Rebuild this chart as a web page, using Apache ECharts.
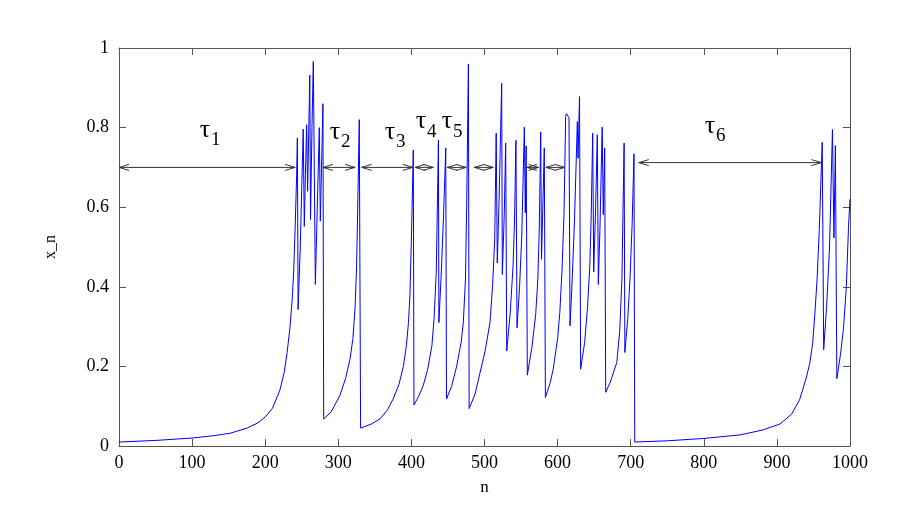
<!DOCTYPE html>
<html><head><meta charset="utf-8">
<script src="https://cdn.jsdelivr.net/npm/echarts@6/dist/echarts.min.js"></script>
<style>html,body{margin:0;padding:0;background:#fff}#c{width:915px;height:523px}</style>
</head><body><div id="c"></div>
<script>
// iteration index n and value x_n
const nValues = [0,50,100,130,152,175,190,200,210,220,226,230,234,237,239,241,243,244,
245,248,250,252,253.5,255,256.7,258,261,262,264,265.8,268.6,271,274,275.4,279,280,
290,302,310,316,320,323,325,327,328.7,330.5,
345,357,367,375,383,389,393,396,398,400,402.6,403.5,
410,416,422,428,431,434,437,437.6,441,444,447,448,
455,462,468,471,474,475.6,478,479,
487,494,501,507.5,511,514,516,517.5,520,523.5,524.4,527,529,530.4,535,539,541,543,544.5,548,551,554.5,555.8,557,558.6,565,570,573,575,576.9,578,581.8,583.3,
590,594,600,603,606,608.8,611,612,614,615.6,617,620,623,627,628,630,631.5,637,641,644,646,648,649.4,652,654.3,655.7,658,661,662.5,664.4,665.8,672,681,685,688,691,692,696,699,702,704.5,705.5,
750,800,850,880,904,920,931,940,945,949,952,955,958,962,964,968,972,976,978,980,982,987,991,995,998,1000];
const xValues = [0.010,0.014,0.020,0.026,0.032,0.045,0.058,0.073,0.095,0.14,0.185,0.235,0.30,0.37,0.44,0.55,0.68,0.774,
0.343,0.50,0.65,0.796,0.552,0.68,0.807,0.64,0.932,0.569,0.80,0.966,0.406,0.58,0.80,0.565,0.86,0.068,
0.085,0.126,0.17,0.218,0.27,0.35,0.45,0.644,0.82,0.045,
0.055,0.068,0.09,0.118,0.155,0.2,0.25,0.31,0.38,0.52,0.744,0.103,
0.125,0.151,0.19,0.251,0.32,0.436,0.769,0.31,0.44,0.58,0.749,0.118,
0.15,0.201,0.26,0.31,0.42,0.602,0.96,0.094,
0.13,0.185,0.24,0.31,0.40,0.52,0.786,0.46,0.62,0.911,0.431,0.58,0.761,0.239,0.33,0.45,0.56,0.768,0.297,0.40,0.53,0.801,0.586,0.754,0.178,0.25,0.33,0.42,0.55,0.789,0.469,0.749,0.122,
0.16,0.193,0.27,0.335,0.44,0.586,0.828,0.835,0.835,0.825,0.302,0.42,0.56,0.815,0.723,0.878,0.193,0.26,0.35,0.45,0.58,0.786,0.437,0.6,0.782,0.406,0.55,0.801,0.581,0.749,0.135,0.16,0.21,0.29,0.42,0.761,0.235,0.32,0.419,0.56,0.734,0.010,
0.013,0.019,0.028,0.040,0.055,0.08,0.116,0.17,0.208,0.26,0.334,0.42,0.544,0.763,0.242,0.35,0.50,0.795,0.523,0.755,0.169,0.23,0.293,0.40,0.552,0.62];

// laminar-phase double arrows
const arrowStart = [0,279,332,405,449,486,558,584,711];
const arrowEnd   = [241,323,402,430,475,512,574,610,961];
const arrowLevel = [0.7,0.7,0.7,0.7,0.7,0.7,0.7,0.7,0.712];

// tau labels
const labelN   = [117.6,295.5,370.7,413,448.6,808.5];
const labelY   = [0.789,0.784,0.784,0.810,0.810,0.798];
const labelSub = [1,2,3,4,5,6];

const xTicks = [0,100,200,300,400,500,600,700,800,900,1000];

const serif = '"Liberation Serif","Times New Roman",serif';
const frame = '#555';

const chart = echarts.init(document.getElementById('c'), null, {renderer:'canvas'});
const lineData = nValues.map((n,i)=>[n, xValues[i]]);
const arrowData = arrowStart.map((s,i)=>[s, arrowEnd[i], arrowLevel[i]]);
const labelData = labelN.map((n,i)=>[n, labelY[i], labelSub[i]]);

const axisCommonX = {type:'value', min:0, max:1000, interval:100,
  axisLine:{show:true, onZero:false, lineStyle:{color:frame, width:1}},
  axisTick:{show:true, inside:true, length:7, lineStyle:{color:frame}},
  splitLine:{show:false}};
const axisCommonY = {type:'value', min:0, max:1, interval:0.2,
  axisLine:{show:true, onZero:false, lineStyle:{color:frame, width:1}},
  axisTick:{show:true, inside:true, length:7, lineStyle:{color:frame}},
  splitLine:{show:false}};

chart.setOption({
  animation:false,
  backgroundColor:'#fff',
  grid:{left:119, right:65, top:48, bottom:77},
  xAxis:[
    Object.assign({}, axisCommonX, {position:'bottom', name:'n', nameLocation:'middle', nameGap:33,
      nameTextStyle:{fontFamily:serif, fontSize:17, color:'#000'},
      axisLabel:{fontFamily:serif, fontSize:18, color:'#000', margin:8,
        formatter:v=>xTicks.includes(v)?String(v):''}}),
    Object.assign({}, axisCommonX, {position:'top', axisLabel:{show:false}})
  ],
  yAxis:[
    Object.assign({}, axisCommonY, {position:'left', name:'x_n', nameLocation:'middle', nameGap:60,
      nameRotate:90, nameTextStyle:{fontFamily:serif, fontSize:16, color:'#000'},
      axisLabel:{fontFamily:serif, fontSize:18, color:'#000', margin:10,
        formatter:v=>String(+v.toFixed(1))}}),
    Object.assign({}, axisCommonY, {position:'right', axisLabel:{show:false}})
  ],
  series:[
    {type:'line', xAxisIndex:0, yAxisIndex:0, data:lineData, showSymbol:false, symbol:'none',
     lineStyle:{color:'#0000ff', width:1}, smooth:false, z:2},
    {type:'custom', xAxisIndex:0, yAxisIndex:0, data:arrowData, encode:{x:[0,1], y:2}, z:3,
     renderItem:function(params, api){
       const s = api.coord([api.value(0), api.value(2)]);
       const e = api.coord([api.value(1), api.value(2)]);
       const L = 10, W = 3;
       const st = {stroke:'#333', lineWidth:1, fill:null};
       return {type:'group', children:[
         {type:'line', shape:{x1:s[0], y1:s[1], x2:e[0], y2:e[1]}, style:st},
         {type:'polyline', shape:{points:[[s[0]+L, s[1]-W],[s[0], s[1]],[s[0]+L, s[1]+W]]}, style:st},
         {type:'polyline', shape:{points:[[e[0]-L, e[1]-W],[e[0], e[1]],[e[0]-L, e[1]+W]]}, style:st}
       ]};
     }},
    {type:'custom', xAxisIndex:0, yAxisIndex:0, data:labelData, encode:{x:0, y:1}, z:4,
     renderItem:function(params, api){
       const p = api.coord([api.value(0), api.value(1)]);
       return {type:'group', children:[
         {type:'text', x:p[0], y:p[1]-2, style:{text:'τ', font:'26px '+serif, fill:'#000', align:'center', verticalAlign:'middle'}},
         {type:'text', x:p[0]+6, y:p[1]+8, style:{text:String(api.value(2)), font:'19px '+serif, fill:'#000', align:'left', verticalAlign:'middle'}}
       ]};
     }}
  ]
});
</script>
</body></html>
